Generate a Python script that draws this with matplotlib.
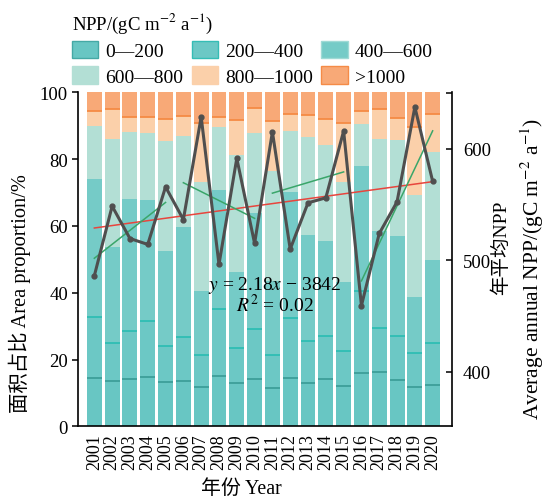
import numpy as np
import matplotlib
matplotlib.use('Agg')
import matplotlib.pyplot as plt
from matplotlib.patches import Patch

plt.rcParams['font.family'] = ['Liberation Serif', 'Noto Sans CJK SC']
plt.rcParams['mathtext.fontset'] = 'stix'

years = [str(y) for y in range(2001, 2021)]
classes = ['0—200', '200—400', '400—600', '600—800', '800—1000', '>1000']

# area proportion (%) of each NPP class per year
share_0_200 = [14.5, 13.5, 14.1, 14.7, 13.4, 13.7, 11.7, 15.0, 13.0, 14.1,
               11.4, 14.5, 13.0, 14.2, 12.0, 15.9, 16.2, 14.0, 11.7, 12.4]
share_200_400 = [18.3, 11.5, 14.3, 16.7, 10.7, 12.9, 9.7, 20.0, 10.4, 15.1,
                 10.0, 17.9, 12.4, 12.7, 10.5, 24.5, 13.3, 13.1, 10.3, 12.6]
share_400_600 = [41.3, 28.8, 39.6, 36.4, 28.5, 33.2, 19.0, 35.7, 22.9, 34.8,
                 22.1, 37.9, 31.9, 28.7, 20.6, 37.6, 29.1, 30.0, 16.8, 24.9]
share_600_800 = [15.9, 32.2, 20.2, 20.0, 32.7, 27.2, 32.8, 18.8, 34.8, 23.9,
                 32.9, 18.2, 29.2, 28.6, 30.1, 12.5, 27.4, 28.7, 30.5, 32.3]
share_800_1000 = [4.5, 8.9, 4.3, 4.7, 6.6, 5.9, 17.5, 3.0, 10.6, 7.5,
                  14.9, 5.0, 6.8, 7.7, 17.6, 4.0, 8.9, 6.4, 20.2, 11.3]
share_gt_1000 = [5.5, 5.1, 7.5, 7.5, 8.1, 7.1, 9.3, 7.5, 8.3, 4.6,
                 8.7, 6.5, 6.7, 8.1, 9.2, 5.5, 5.1, 7.8, 10.5, 6.5]

# average annual NPP (gC m-2 a-1)
npp = [486.0, 548.4, 519.4, 514.1, 565.7, 536.4, 628.4, 496.2, 591.3, 515.0,
       615.0, 509.9, 551.4, 555.9, 615.8, 459.2, 523.9, 552.3, 637.3, 570.7]

shares = [share_0_200, share_200_400, share_400_600,
          share_600_800, share_800_1000, share_gt_1000]
face = ['#68c6c3', '#6cc8c5', '#75cbc7', '#b3dfd5', '#fbd0aa', '#f8a977']
legend_edge = ['#45a9a5', '#35bdb5', '#9fdad5', '#b3dfd5', '#fbd0aa', '#f58b47']
boundary_color = {0: '#3d9f99', 1: '#2fbeb4', 4: '#f58b45'}

fig = plt.figure(figsize=(5.48, 5.02), dpi=100)
ax = fig.add_axes([0.1429, 0.1488, 0.6814, 0.6653])

x = np.arange(len(years))
w = 0.84
bottom = np.zeros(len(years))
tops = []
for vals, fc in zip(shares, face):
    vals = np.array(vals)
    ax.bar(x, vals, width=w, bottom=bottom, color=fc, linewidth=0, zorder=2)
    bottom = bottom + vals
    tops.append(bottom.copy())
for i, col in boundary_color.items():
    ax.hlines(tops[i], x - w / 2, x + w / 2, colors=col, lw=1.3, zorder=3)

ax.set_xlim(-0.9, 20.07)
ax.set_ylim(0, 100)
ax.set_yticks([0, 20, 40, 60, 80, 100])
ax.set_xticks(x)
ax.set_xticklabels(years, rotation=90, fontsize=13)
ax.tick_params(axis='x', length=0, pad=5)
ax.tick_params(axis='y', direction='out', length=4, width=1.1, labelsize=13.5)
for s in ['top', 'right']:
    ax.spines[s].set_visible(False)
for s in ['left', 'bottom']:
    ax.spines[s].set_linewidth(1.2)
ax.set_xlabel('年份 Year', fontsize=14.3)
ax.xaxis.set_label_coords(0.436, -0.158)
ax.set_ylabel('面积占比 Area proportion/%', fontsize=14.7)
ax.yaxis.set_label_coords(-0.127, 0.40)

ax2 = ax.twinx()
coef = np.polyfit(x, npp, 1)
ax2.plot(x, np.polyval(coef, x), color='#e8453d', lw=1.1, zorder=3)
npp_arr = np.array(npp)
for s in range(0, len(x), 5):
    xs = x[s:s + 5]
    c = np.polyfit(xs, npp_arr[s:s + 5], 1)
    ax2.plot(xs, np.polyval(c, xs), color='#3aa66a', lw=1.1, zorder=3)
ax2.plot(x, npp, color='#4f4f4f', lw=2.2, marker='o', ms=3.5, zorder=4)
ax2.set_ylim(351, 650.5)
ax2.set_yticks([400, 500, 600, 650])
ax2.set_yticklabels(['400', '500', '600', ''])
ax2.tick_params(axis='y', direction='in', length=4, width=1.1, labelsize=13.5, pad=8)
ax2.spines['top'].set_visible(False)
ax2.spines['left'].set_visible(False)
ax2.spines['bottom'].set_visible(False)
ax2.spines['right'].set_linewidth(1.2)

ax.text(0.527, 0.426, '$y$ = 2.18$x$ − 3842', transform=ax.transAxes,
        ha='center', va='center', fontsize=14, zorder=5)
ax.text(0.527, 0.366, '$R^2$ = 0.02', transform=ax.transAxes,
        ha='center', va='center', fontsize=14, zorder=5)

fig.text(501 / 548, 1 - 248 / 502, '年平均NPP', rotation=90,
         ha='center', va='center', fontsize=14)
fig.text(532 / 548, 1 - 269 / 502, 'Average annual NPP/(gC m$^{-2}$ a$^{-1}$)',
         rotation=90, ha='center', va='center', fontsize=15.5)

order = [0, 3, 1, 4, 2, 5]
handles = [Patch(facecolor=face[i], edgecolor=legend_edge[i], lw=1) for i in order]
labels = [classes[i] for i in order]
fig.legend(handles, labels, ncol=3, loc='upper left',
           bbox_to_anchor=(72 / 548, 1 - 12 / 502), frameon=False,
           title='NPP/(gC m$^{-2}$ a$^{-1}$)', alignment='left',
           fontsize=14, title_fontsize=13.5, handlelength=1.35, handleheight=1.0,
           handletextpad=0.35, columnspacing=0.45, labelspacing=0.3,
           borderpad=0, borderaxespad=0)

fig.savefig('out.png', dpi=100)
